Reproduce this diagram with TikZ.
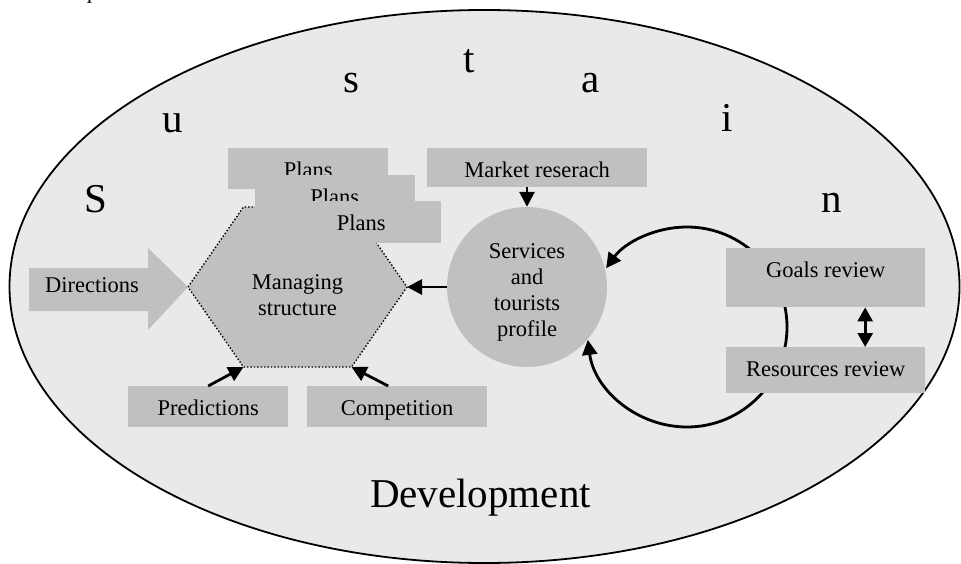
\documentclass[tikz,border=0pt]{standalone}
\usepackage{fontspec}
\setmainfont{Liberation Serif}
\usepackage{tikz}
\usetikzlibrary{arrows.meta}
\usetikzlibrary{positioning,calc}
\definecolor{ovalgray}{RGB}{233,233,233}
\definecolor{boxgray}{RGB}{192,192,192}
\newcommand{\lblfont}{\fontsize{22.5}{26}\selectfont}
\newcommand{\bigfont}{\fontsize{41}{41}\selectfont}
\tikzset{
    gbox/.style={
        fill=boxgray,
        anchor=north west,
        inner xsep=0pt,
        inner ysep=0pt,
        text height=29.5pt,
        text depth=11pt,
        font=\lblfont
    },
    letter/.style={
        anchor=base,
        inner sep=0pt,
        font=\bigfont
    },
    flow/.style={
        -{Triangle[length=15pt, width=15pt]},
        line width=2.8pt
    },
    dflow/.style={
        {Triangle[length=14pt, width=15pt]}-{Triangle[length=14pt, width=15pt]},
        line width=2.8pt
    }
}

\begin{document}
\begin{tikzpicture}[x=1pt, y=-1pt]
  \useasboundingbox (0,0) rectangle (961,564);

  % caption fragment above the picture
  \node[anchor=base, inner sep=0pt, font=\lblfont\itshape] (capp) at (94,-1) {p};

  % Development oval
  \draw[fill=ovalgray, line width=1.8pt] (484.5,286.5) ellipse [x radius=475, y radius=276.5];
  \node[letter] (dev) at (480.5,507) {Development};

  % S u s t a i n
  \node[letter] (l1) at (96,213) {S};
  \node[letter] (l2) at (173,133) {u};
  \node[letter] (l3) at (351,93) {s};
  \node[letter] (l4) at (469,73) {t};
  \node[letter] (l5) at (591,93) {a};
  \node[letter] (l6) at (727,132) {i};
  \node[letter] (l7) at (832,213) {n};

  % Services and tourists profile
  \node[circle, fill=boxgray, minimum size=160pt, inner sep=0pt] (svc) at (527,287) {};
  \node[align=center, inner sep=0pt, font=\lblfont] (svctxt) at (527,292)
        {Services\\and\\tourists\\profile};

  % Review loop
  \coordinate (loop) at (687,327);
  \draw[flow] ([shift={(0:100)}]loop) arc[start angle=0, end angle=-144, radius=100];
  \draw[flow] ([shift={(0:100)}]loop) arc[start angle=0, end angle=172.6, radius=100];
  \node[gbox, minimum width=199pt, text depth=29.5pt] (goals) at (726,248) {Goals review};
  \node[gbox, minimum width=199pt, text depth=16.5pt] (res) at (726,347) {Resources review};
  \draw[dflow] ([xshift=39.5pt]goals.south) -- ([xshift=39.5pt]res.north);

  % Managing structure hexagon
  \coordinate (hl) at (188,287);
  \coordinate (htl) at (243.5,207);
  \coordinate (htr) at (351.5,207);
  \coordinate (hr) at (407,287);
  \coordinate (hbr) at (351.5,367);
  \coordinate (hbl) at (243.5,367);
  \draw[fill=boxgray, dotted, line width=1.4pt] (hl) -- (htl) -- (htr) -- (hr) -- (hbr) -- (hbl) -- cycle;
  \node[align=center, inner sep=0pt, font=\lblfont] (ms) at (297.5,295) {Managing\\structure};

  % Plans
  \node[gbox, minimum width=160pt] (plans1) at (228,148) {Plans};
  \node[gbox, minimum width=160pt] (plans2) at (254.5,174.5) {Plans};
  \node[gbox, minimum width=160pt, text depth=12pt] (plans3) at (281,201) {Plans};

  % Market reserach
  \node[gbox, minimum width=220pt, text depth=9.5pt] (market) at (427,148) {Market reserach};

  % Directions
  \fill[boxgray] (29,268) -- (148,268) -- (148,248) -- (hl) -- (148,330) -- (148,311) -- (29,311) -- cycle;
  \node[anchor=base, inner sep=0pt, font=\lblfont] (dir) at (92,292) {Directions};

  % Predictions and Competition
  \node[gbox, minimum width=160pt, text depth=11.5pt] (pred) at (128,386) {Predictions};
  \node[gbox, minimum width=180pt, text depth=11.5pt] (comp) at (307,386) {Competition};

  % Arrows
  \draw[flow] (market.south -| svc) -- (svc);
  \draw[flow] (svc) -- (hr);
  \draw[flow] (pred.north) -- (hbl);
  \draw[flow] ([xshift=-9pt]comp.north) -- (hbr);
\end{tikzpicture}
\end{document}
